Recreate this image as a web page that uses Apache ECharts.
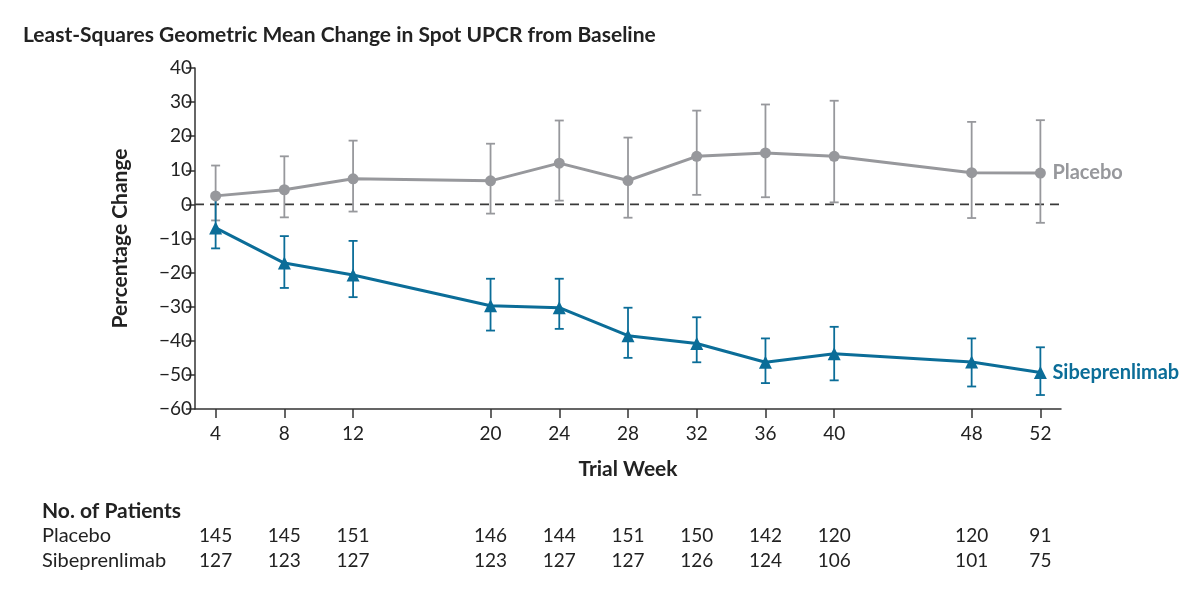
<!DOCTYPE html>
<html>
<head>
<meta charset="utf-8">
<script src="https://cdn.jsdelivr.net/npm/echarts@6/dist/echarts.min.js"></script>
<style>
  html, body { margin: 0; padding: 0; background: #fff; }
  #main { width: 1200px; height: 589px; }
</style>
</head>
<body>
<div id="main"></div>
<script>
var FONT = 'Lato, "Open Sans", sans-serif';

const weeks = [4, 8, 12, 20, 24, 28, 32, 36, 40, 48, 52];
const placeboMean = [2.5, 4.3, 7.5, 6.9, 12.1, 7.0, 14.1, 15.1, 14.1, 9.3, 9.2];
const placeboLow = [-4.7, -3.8, -2.1, -2.7, 1.1, -3.9, 2.8, 2.1, 0.6, -4.0, -5.4];
const placeboHigh = [11.4, 14.1, 18.7, 17.8, 24.6, 19.6, 27.5, 29.3, 30.4, 24.2, 24.7];
const sibeMean = [-6.9, -17.2, -20.7, -29.7, -30.3, -38.5, -40.8, -46.3, -43.8, -46.2, -49.3];
const sibeLow = [-12.9, -24.5, -27.2, -37.0, -36.5, -45.0, -46.3, -52.4, -51.6, -53.4, -55.9];
const sibeHigh = [2.6, -9.3, -10.7, -21.8, -21.8, -30.3, -33.1, -39.3, -35.9, -39.3, -41.9];
const placeboN = [145, 145, 151, 146, 144, 151, 150, 142, 120, 120, 91];
const sibeN = [127, 123, 127, 123, 127, 127, 126, 124, 106, 101, 75];

const X_MIN = 2.8;
const X_MAX = 53.2;
const GRAY = '#97989c';
const BLUE = '#0b6d98';

var chartDom = document.getElementById('main');
var myChart = echarts.init(chartDom);
var option;

function pairs(ys) {
  return weeks.map(function (w, i) { return [w, ys[i]]; });
}
function bars(lo, hi) {
  return weeks.map(function (w, i) { return [w, lo[i], hi[i]]; });
}

// vertical error bar with small caps
function renderErrorBar(params, api) {
  var x = api.value(0);
  var lo = api.coord([x, api.value(1)]);
  var hi = api.coord([x, api.value(2)]);
  var half = 4.5;
  var style = { stroke: api.visual('color'), lineWidth: 1.8, fill: null };
  return {
    type: 'group',
    children: [
      { type: 'line', shape: { x1: lo[0], y1: lo[1], x2: hi[0], y2: hi[1] }, style: style },
      { type: 'line', shape: { x1: lo[0] - half, y1: lo[1], x2: lo[0] + half, y2: lo[1] }, style: style },
      { type: 'line', shape: { x1: hi[0] - half, y1: hi[1], x2: hi[0] + half, y2: hi[1] }, style: style }
    ]
  };
}

option = {
  animation: false,
  textStyle: { fontFamily: FONT },
  title: {
    text: 'Least-Squares Geometric Mean Change in Spot UPCR from Baseline',
    left: 18,
    top: 20,
    textStyle: { fontFamily: FONT, fontSize: 21, fontWeight: 'bold', color: '#222' }
  },
  grid: {
    left: 195,
    right: 139,
    top: 68,
    bottom: 180,
    containLabel: false
  },
  xAxis: {
    type: 'value',
    min: X_MIN,
    max: X_MAX,
    name: 'Trial Week',
    nameLocation: 'middle',
    nameGap: 50,
    nameTextStyle: { fontFamily: FONT, fontSize: 21, fontWeight: 'bold', color: '#222' },
    axisLine: { show: true, onZero: false, lineStyle: { color: '#333', width: 1.5 } },
    axisTick: { show: true, length: 9, customValues: weeks, lineStyle: { color: '#333', width: 1.5 } },
    axisLabel: { customValues: weeks, fontFamily: FONT, fontSize: 19, color: '#222', margin: 15 },
    splitLine: { show: false }
  },
  yAxis: {
    type: 'value',
    min: -60,
    max: 40,
    interval: 10,
    name: 'Percentage Change',
    nameLocation: 'middle',
    nameGap: 64,
    nameTextStyle: { fontFamily: FONT, fontSize: 21, fontWeight: 'bold', color: '#222' },
    axisLine: { show: true, onZero: false, lineStyle: { color: '#333', width: 1.5 } },
    axisTick: { show: true, length: 9, lineStyle: { color: '#333', width: 1.5 } },
    axisLabel: {
      fontFamily: FONT,
      fontSize: 19,
      color: '#222',
      margin: 3,
      formatter: function (v) { return String(v).replace('-', '\u2212'); }
    },
    splitLine: { show: false }
  },
  series: [
    {
      // dashed zero reference
      name: 'zero',
      type: 'line',
      symbol: 'none',
      silent: true,
      lineStyle: { color: '#3a3a3a', type: [9, 6], width: 1.6 },
      data: [[X_MIN, 0], [X_MAX, 0]],
      z: 1
    },
    {
      name: 'Placebo bars',
      type: 'custom',
      renderItem: renderErrorBar,
      itemStyle: { color: GRAY },
      encode: { x: 0, y: [1, 2] },
      data: bars(placeboLow, placeboHigh),
      z: 3
    },
    {
      name: 'Sibeprenlimab bars',
      type: 'custom',
      renderItem: renderErrorBar,
      itemStyle: { color: BLUE },
      encode: { x: 0, y: [1, 2] },
      data: bars(sibeLow, sibeHigh),
      z: 3
    },
    {
      name: 'Placebo',
      type: 'line',
      symbol: 'circle',
      symbolSize: 11,
      color: GRAY,
      lineStyle: { color: GRAY, width: 3 },
      itemStyle: { color: GRAY },
      endLabel: {
        show: true,
        formatter: '{a}',
        distance: 12,
        fontFamily: FONT,
        fontSize: 20,
        fontWeight: 'bold',
        color: GRAY
      },
      data: pairs(placeboMean),
      z: 4
    },
    {
      name: 'Sibeprenlimab',
      type: 'line',
      symbol: 'triangle',
      symbolSize: 13,
      color: BLUE,
      lineStyle: { color: BLUE, width: 3 },
      itemStyle: { color: BLUE },
      endLabel: {
        show: true,
        formatter: '{a}',
        distance: 12,
        fontFamily: FONT,
        fontSize: 20,
        fontWeight: 'bold',
        color: BLUE
      },
      data: pairs(sibeMean),
      z: 4
    }
  ]
};

option && myChart.setOption(option);

// patient counts table under the axis, columns placed with the x scale
var tableText = [];
var rowY = { head: 511, placebo: 536, sibe: 561 };
tableText.push({
  type: 'text', x: 42, y: rowY.head,
  style: { text: 'No. of Patients', font: 'bold 21px ' + FONT, fill: '#222', verticalAlign: 'middle' }
});
tableText.push({
  type: 'text', x: 42, y: rowY.placebo,
  style: { text: 'Placebo', font: '20px ' + FONT, fill: '#222', verticalAlign: 'middle' }
});
tableText.push({
  type: 'text', x: 42, y: rowY.sibe,
  style: { text: 'Sibeprenlimab', font: '20px ' + FONT, fill: '#222', verticalAlign: 'middle' }
});
weeks.forEach(function (w, i) {
  var px = myChart.convertToPixel({ xAxisIndex: 0 }, w);
  tableText.push({
    type: 'text', x: px, y: rowY.placebo,
    style: { text: String(placeboN[i]), font: '19px ' + FONT, fill: '#222', align: 'center', verticalAlign: 'middle' }
  });
  tableText.push({
    type: 'text', x: px, y: rowY.sibe,
    style: { text: String(sibeN[i]), font: '19px ' + FONT, fill: '#222', align: 'center', verticalAlign: 'middle' }
  });
});
myChart.setOption({ graphic: tableText });
</script>
</body>
</html>
